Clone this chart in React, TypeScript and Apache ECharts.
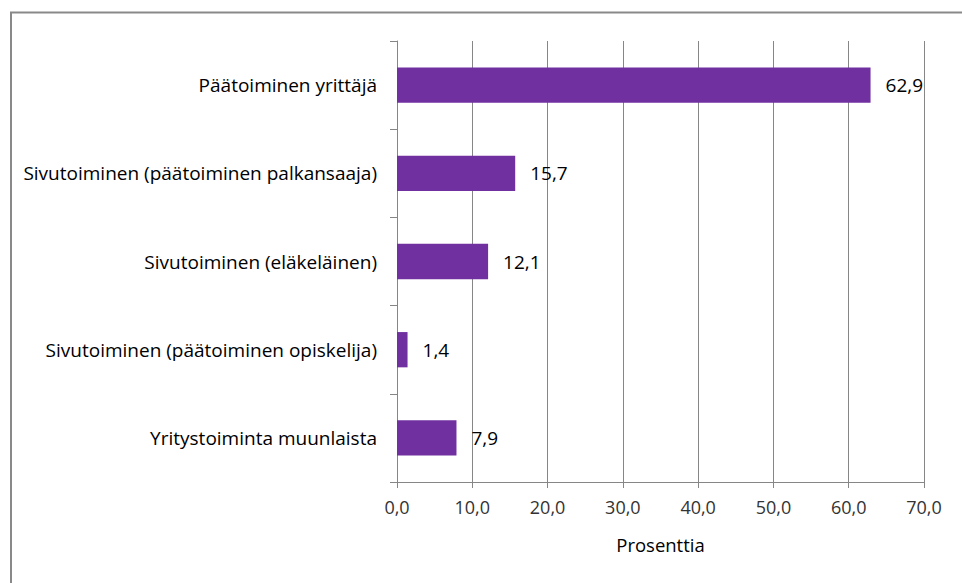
import React, { useEffect, useRef } from "react";
import * as echarts from "echarts";

const categories = [
  "Päätoiminen yrittäjä",
  "Sivutoiminen (päätoiminen palkansaaja)",
  "Sivutoiminen (eläkeläinen)",
  "Sivutoiminen (päätoiminen opiskelija)",
  "Yritystoiminta muunlaista",
];
const values = [62.9, 15.7, 12.1, 1.4, 7.9];
const axisName = "Prosenttia";

const fmt = (v: number) => v.toFixed(1).replace(".", ",");

export default function App() {
  const ref = useRef<HTMLDivElement>(null);
  useEffect(() => {
    if (!ref.current) return;
    const chart = echarts.init(ref.current, null, { renderer: "svg" });
    const font = "'Open Sans', 'Noto Sans', sans-serif";
    chart.setOption({
      animation: false,
      textStyle: { fontFamily: font },
      graphic: [
        {
          type: "rect",
          shape: { x: 11, y: 12.5, width: 2000, height: 2000 },
          style: { fill: "none", stroke: "#898989", lineWidth: 2 },
          silent: true,
        },
      ],
      grid: { left: 397, right: 38, top: 41, bottom: 101, containLabel: false },
      xAxis: {
        type: "value",
        min: 0,
        max: 70,
        interval: 10,
        name: axisName,
        nameLocation: "middle",
        nameGap: 53,
        nameTextStyle: { color: "#000", fontSize: 18.5, fontFamily: font, verticalAlign: "top" },
        axisLine: { show: true, lineStyle: { color: "#868686", width: 1 } },
        axisTick: { show: true, length: 6, lineStyle: { color: "#868686" } },
        axisLabel: { color: "#333", fontSize: 18, margin: 16, fontFamily: font, formatter: (v: number) => fmt(v) },
        splitLine: { show: true, lineStyle: { color: "#868686", width: 1 } },
      },
      yAxis: {
        type: "category",
        inverse: true,
        data: categories,
        axisLine: { show: true, lineStyle: { color: "#868686", width: 1 } },
        axisTick: { show: true, length: 7, lineStyle: { color: "#868686" } },
        axisLabel: { color: "#000", fontSize: 19, margin: 20, fontFamily: font },
      },
      series: [
        {
          type: "bar",
          data: values,
          barWidth: "40%",
          itemStyle: { color: "#7030A0" },
          label: {
            show: true,
            position: "right",
            distance: 15,
            color: "#000",
            fontSize: 19,
            fontFamily: font,
            formatter: (p: any) => fmt(p.value),
          },
        },
      ],
    });
    return () => chart.dispose();
  }, []);
  return (
    <div
      ref={ref}
      style={{ position: "fixed", left: 0, top: 0, width: 962, height: 583, background: "#fff" }}
    />
  );
}
